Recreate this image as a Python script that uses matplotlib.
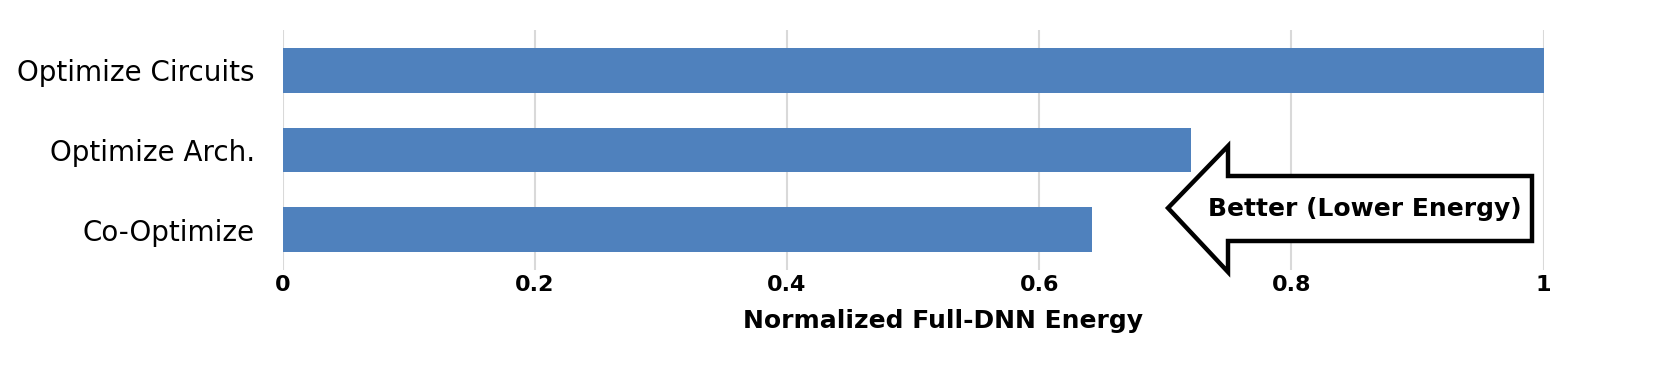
import matplotlib.pyplot as plt
from matplotlib.patches import Polygon

# data
categories = ['Optimize Circuits', 'Optimize Arch.', 'Co-Optimize']
energy = [1.0, 0.72, 0.642]
xticks = [0, 0.2, 0.4, 0.6, 0.8, 1]
xtick_labels = ['0', '0.2', '0.4', '0.6', '0.8', '1']

W, H = 1660, 369
fig = plt.figure(figsize=(W / 100, H / 100), dpi=100)
ax = fig.add_axes([282.7 / W, 1 - 269.6 / H, (1543.6 - 282.7) / W, (269.6 - 30.4) / H])

ypos = list(range(len(categories)))
ax.barh(ypos, energy, height=0.56, color='#4F81BD', zorder=2)
ax.set_ylim(len(categories) - 0.5, -0.5)
ax.set_xlim(0, 1)
ax.set_yticks(ypos)
ax.set_yticklabels(categories, fontsize=20)
ax.set_xticks(xticks)
ax.set_xticklabels(xtick_labels, fontsize=16, fontweight='bold')
ax.tick_params(axis='both', length=0)
ax.tick_params(axis='y', pad=20)
ax.tick_params(axis='x', pad=4)
ax.grid(axis='x', color='#D9D9D9', linewidth=1.5, zorder=0)
ax.set_axisbelow(True)
for s in ax.spines.values():
    s.set_visible(False)
ax.set_xlabel('Normalized Full-DNN Energy', fontsize=18, fontweight='bold', labelpad=10)
ax.xaxis.label.set_x(0.524)

# "better" arrow, in pixel coords of the figure
def fp(x, y):
    return (x / W, 1 - y / H)

pts = [(1168, 208), (1228, 146), (1228, 176), (1532, 176),
       (1532, 241), (1228, 241), (1228, 272)]
arrow = Polygon([fp(x, y) for x, y in pts], closed=True, facecolor='white',
                edgecolor='black', linewidth=3.2, joinstyle='miter',
                transform=fig.transFigure, zorder=5)
fig.patches.append(arrow)
fig.text(1522 / W, 1 - 209 / H, 'Better (Lower Energy)', fontsize=18,
         fontweight='bold', ha='right', va='center', zorder=6)

fig.savefig('out.png', dpi=100)
